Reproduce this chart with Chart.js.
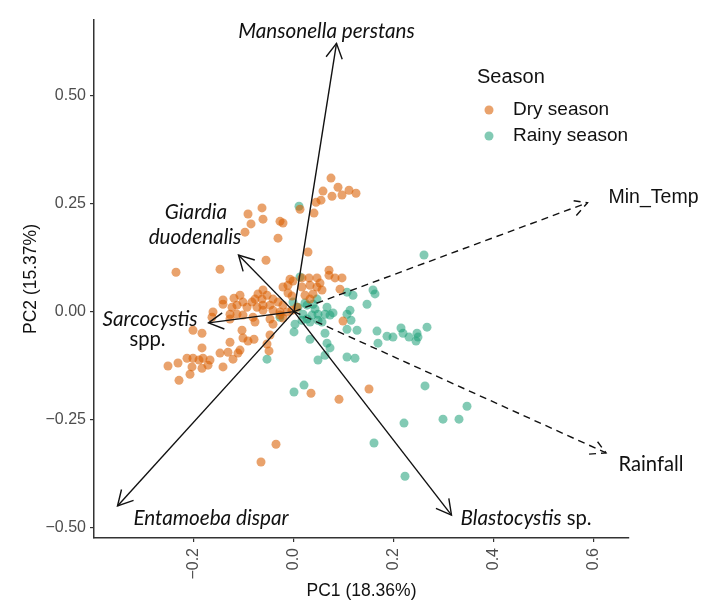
<!DOCTYPE html>
<html lang="en">
<head>
<meta charset="UTF-8">
<title>PCA biplot by season</title>
<script src="https://cdn.jsdelivr.net/npm/chart.js"></script>
<style>
  body { margin: 0; background: #fff; }
  #wrap { width: 722px; height: 613px; }
</style>
</head>
<body>
<div id="wrap"><canvas id="myChart" width="722" height="613"></canvas></div>
<script>
// sample scores, dry season
var dryX = [
  0.074, 0.088, 0.058, 0.076, 0.096, 0.110, 0.124, 0.054, 0.044, 0.012,
  0.040, -0.064, -0.092, -0.062, -0.086, -0.028, -0.022, -0.098, -0.032, 0.028,
  -0.056, -0.236, -0.148, 0.070, 0.070, -0.008, -0.002, 0.016, 0.030, 0.046,
  0.082, 0.096, 0.052, -0.012, -0.022, 0.016, 0.032, 0.046, 0.056, 0.092,
  0.038, 0.022, -0.012, -0.004, -0.062, -0.072, -0.078, -0.084, -0.064, -0.054,
  -0.042, -0.032, -0.022, -0.048, -0.062, -0.108, -0.120, -0.102, -0.114, -0.124,
  -0.094, -0.074, -0.062, -0.042, -0.028, -0.014, -0.004, -0.114, -0.102, -0.082,
  -0.048, -0.028, -0.128, -0.128, 0.006, -0.042, -0.078, -0.022, -0.142, -0.162,
  -0.164, -0.142, 0.098, -0.104, -0.202, -0.184, -0.102, -0.048, -0.128, -0.092,
  -0.080, -0.108, -0.132, -0.148, -0.054, -0.050, -0.112, -0.122, -0.184, -0.214,
  -0.202, -0.190, -0.182, -0.168, -0.252, -0.232, -0.204, -0.184, -0.172, -0.142,
  -0.208, -0.230, 0.034, 0.090, 0.150, -0.036, -0.066, 0.032
];
var dryY = [
  0.309, 0.288, 0.279, 0.267, 0.270, 0.281, 0.274, 0.258, 0.253, 0.237,
  0.228, 0.240, 0.226, 0.214, 0.203, 0.209, 0.205, 0.184, 0.170, 0.138,
  0.119, 0.091, 0.098, 0.096, 0.084, 0.075, 0.071, 0.078, 0.078, 0.078,
  0.078, 0.078, 0.066, 0.061, 0.057, 0.057, 0.061, 0.057, 0.050, 0.052,
  0.041, 0.038, 0.043, 0.036, 0.050, 0.041, 0.029, 0.022, 0.029, 0.038,
  0.029, 0.022, 0.015, 0.015, 0.015, 0.038, 0.031, 0.022, 0.015, 0.010,
  0.010, 0.010, 0.003, 0.003, -0.001, -0.001, 0.003, -0.006, -0.008, -0.013,
  -0.017, -0.008, -0.006, -0.017, 0.010, -0.029, -0.024, -0.015, 0.017, -0.001,
  -0.013, 0.027, -0.022, -0.043, -0.043, -0.050, -0.061, -0.054, -0.071, -0.068,
  -0.064, -0.089, -0.094, -0.096, -0.075, -0.091, -0.096, -0.110, -0.084, -0.108,
  -0.108, -0.112, -0.108, -0.112, -0.126, -0.119, -0.128, -0.131, -0.124, -0.128,
  -0.145, -0.159, -0.189, -0.203, -0.179, -0.307, -0.348, 0.029
];

// sample scores, rainy season
var rainyX = [
  0.010, 0.012, 0.260, 0.106, 0.118, 0.158, 0.162, 0.146, 0.046, -0.002,
  0.008, 0.026, 0.038, 0.042, 0.066, 0.018, 0.036, 0.048, 0.062, 0.072,
  0.016, 0.032, 0.048, 0.056, -0.028, 0.002, 0.112, 0.106, 0.114, 0.106,
  0.126, 0.166, 0.062, 0.000, 0.032, 0.066, 0.168, 0.072, 0.062, 0.048,
  0.106, 0.122, -0.054, 0.186, 0.198, 0.214, 0.218, 0.230, 0.244, 0.246,
  0.248, 0.266, 0.000, 0.020, 0.262, 0.346, 0.298, 0.330, 0.220, 0.160,
  0.222, 0.078, 0.022, 0.026
];
var rainyY = [
  0.244, 0.080, 0.131, 0.045, 0.038, 0.050, 0.041, 0.017, 0.029, 0.022,
  0.010, 0.015, 0.017, 0.006, 0.010, -0.006, -0.008, -0.006, -0.006, -0.008,
  -0.020, -0.024, -0.020, -0.024, -0.013, -0.029, 0.003, -0.006, -0.020, -0.041,
  -0.043, -0.045, -0.050, -0.047, -0.064, -0.073, -0.073, -0.084, -0.101, -0.112,
  -0.105, -0.108, -0.110, -0.057, -0.059, -0.038, -0.050, -0.059, -0.068, -0.050,
  -0.059, -0.036, -0.186, -0.170, -0.172, -0.219, -0.249, -0.249, -0.258, -0.304,
  -0.381, -0.003, 0.020, -0.017
];

// loadings (arrow tips)
var parasiteNames = ['Mansonella perstans', 'Giardia duodenalis', 'Sarcocystis spp.', 'Entamoeba dispar', 'Blastocystis sp.'];
var parasiteX = [0.085, -0.111, -0.171, -0.353, 0.315];
var parasiteY = [0.621, 0.131, -0.026, -0.450, -0.471];
var climateNames = ['Min_Temp', 'Rainfall'];
var climateX = [0.587, 0.624];
var climateY = [0.252, -0.327];

var seasons = ['Dry season', 'Rainy season'];
var xTicks = [-0.2, 0, 0.2, 0.4, 0.6];
var yTicks = [-0.5, -0.25, 0, 0.25, 0.5];

var dryCol = 'rgba(217, 95, 2, 0.58)';
var rainyCol = 'rgba(27, 158, 119, 0.55)';
var labelFont = 'Lato, "Open Sans", sans-serif';
var helvFont = '"Liberation Sans", Arial, sans-serif';

function pairs(xs, ys) {
    return xs.map(function (v, i) { return { x: v, y: ys[i] }; });
}

function fmt(v, d) {
    return (v < 0 ? '\u2212' : '') + Math.abs(v).toFixed(d);
}

var datasets = [];
parasiteX.forEach(function (v, i) {
    datasets.push({
        label: parasiteNames[i], data: [{ x: 0, y: 0 }, { x: v, y: parasiteY[i] }],
        showLine: true, borderColor: '#111', borderWidth: 1.4, pointRadius: 0, order: 0, arrow: true
    });
});
climateX.forEach(function (v, i) {
    datasets.push({
        label: climateNames[i], data: [{ x: 0, y: 0 }, { x: v, y: climateY[i] }],
        showLine: true, borderColor: '#111', borderWidth: 1.4, borderDash: [7, 5], pointRadius: 0, order: 0, arrow: true
    });
});
datasets.push({ label: seasons[0], data: pairs(dryX, dryY), backgroundColor: dryCol, borderWidth: 0, pointRadius: 4.5, order: 1 });
datasets.push({ label: seasons[1], data: pairs(rainyX, rainyY), backgroundColor: rainyCol, borderWidth: 0, pointRadius: 4.5, order: 1 });

// label runs: [text, italic], positioned in data units
var labelSpots = [
    { runs: [['Mansonella perstans', true]], x: 0.065, y: 0.649 },
    { runs: [['Giardia', true]], x: -0.196, y: 0.230 },
    { runs: [['duodenalis', true]], x: -0.198, y: 0.172 },
    { runs: [['Sarcocystis', true]], x: -0.288, y: -0.017 },
    { runs: [['spp.', false]], x: -0.293, y: -0.064 },
    { runs: [['Entamoeba dispar', true]], x: -0.166, y: -0.478 },
    { runs: [['Blastocystis', true], [' sp.', false]], x: 0.464, y: -0.478 },
    { runs: [['Min_Temp', false]], x: 0.719, y: 0.263, helv: true },
    { runs: [['Rainfall', false]], x: 0.714, y: -0.355 }
];

var biplotExtras = {
    id: 'biplotExtras',
    afterDatasetsDraw: function (chart) {
        var ctx = chart.ctx, xs = chart.scales.x, ys = chart.scales.y;
        var ox = xs.getPixelForValue(0), oy = ys.getPixelForValue(0);
        ctx.save();
        // arrow heads
        chart.data.datasets.forEach(function (ds) {
            if (!ds.arrow) return;
            var tip = ds.data[1];
            var tx = xs.getPixelForValue(tip.x), ty = ys.getPixelForValue(tip.y);
            var a = Math.atan2(ty - oy, tx - ox), len = 17, spread = 0.5;
            ctx.beginPath();
            ctx.setLineDash(ds.borderDash || []);
            ctx.strokeStyle = '#111';
            ctx.lineWidth = 1.4;
            ctx.moveTo(tx - len * Math.cos(a - spread), ty - len * Math.sin(a - spread));
            ctx.lineTo(tx, ty);
            ctx.lineTo(tx - len * Math.cos(a + spread), ty - len * Math.sin(a + spread));
            ctx.stroke();
        });
        ctx.setLineDash([]);
        // arrow labels
        ctx.fillStyle = '#111';
        ctx.textBaseline = 'middle';
        ctx.textAlign = 'left';
        labelSpots.forEach(function (s) {
            var fonts = s.runs.map(function (r) {
                if (s.helv) return '19.5px ' + helvFont;
                return (r[1] ? 'italic 20.7px ' : '20.2px ') + labelFont;
            });
            var widths = s.runs.map(function (r, i) { ctx.font = fonts[i]; return ctx.measureText(r[0]).width; });
            var total = widths.reduce(function (a, b) { return a + b; }, 0);
            var px = xs.getPixelForValue(s.x) - total / 2, py = ys.getPixelForValue(s.y);
            s.runs.forEach(function (r, i) {
                ctx.font = fonts[i];
                ctx.fillText(r[0], px, py);
                px += widths[i];
            });
        });
        // legend
        var lx = 477, ly = 77;
        ctx.font = '20px ' + helvFont;
        ctx.fillStyle = '#111';
        ctx.fillText('Season', lx, ly);
        [dryCol, rainyCol].forEach(function (c, i) {
            var y = 110 + i * 26;
            ctx.beginPath();
            ctx.fillStyle = c;
            ctx.arc(489, y, 4.5, 0, Math.PI * 2);
            ctx.fill();
            ctx.fillStyle = '#111';
            ctx.font = '19px ' + helvFont;
            ctx.fillText(seasons[i], 513, y);
        });
        ctx.restore();
    }
};

var axisFont = { family: helvFont, size: 16 };
var titleFont = { family: helvFont, size: 17.5 };

var ctx = document.getElementById('myChart').getContext('2d');
var myChart = new Chart(ctx, {
    type: 'scatter',
    data: { datasets: datasets },
    plugins: [biplotExtras],
    options: {
        responsive: false,
        animation: false,
        layout: { padding: { top: 20, right: 93, left: 0, bottom: 0 } },
        plugins: { legend: { display: false }, tooltip: { enabled: false } },
        scales: {
            x: {
                type: 'linear', min: -0.4, max: 0.67,
                afterBuildTicks: function (s) { s.ticks = xTicks.map(function (v) { return { value: v }; }); },
                afterFit: function (s) { s.height = 75; },
                border: { display: true, color: '#333', width: 1.5 },
                grid: { drawOnChartArea: false, tickLength: 4, color: '#333', lineWidth: 1.2 },
                ticks: {
                    minRotation: 90, maxRotation: 90, padding: 6, color: '#4d4d4d', font: axisFont,
                    callback: function (v) { return fmt(v, 1); }
                },
                title: { display: true, text: 'PC1 (18.36%)', color: '#111', font: titleFont, padding: { bottom: 11 } }
            },
            y: {
                type: 'linear', min: -0.524, max: 0.675,
                afterBuildTicks: function (s) { s.ticks = yTicks.map(function (v) { return { value: v }; }); },
                afterFit: function (s) { s.width = 94; },
                border: { display: true, color: '#333', width: 1.5 },
                grid: { drawOnChartArea: false, tickLength: 4, color: '#333', lineWidth: 1.2 },
                ticks: {
                    padding: 4, color: '#4d4d4d', font: axisFont,
                    callback: function (v) { return fmt(v, 2); }
                },
                title: { display: true, text: 'PC2 (15.37%)', color: '#111', font: titleFont, padding: { top: 21 } }
            }
        }
    }
});
</script>
</body>
</html>
